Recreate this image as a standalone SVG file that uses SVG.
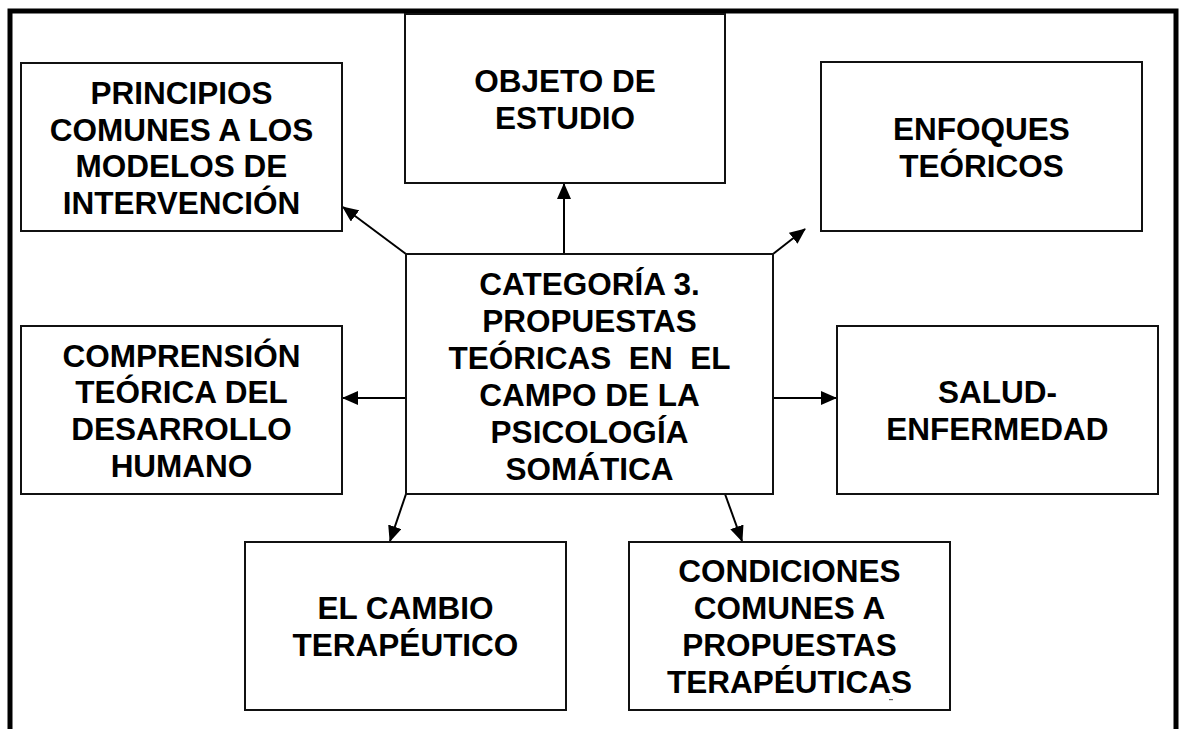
<svg xmlns="http://www.w3.org/2000/svg" width="1180" height="729" viewBox="0 0 1180 729">
<style>
.box{fill:#fff;stroke:#111;stroke-width:2}
.frame{stroke:#000;stroke-width:5;fill:none}
.t{font-family:"Liberation Sans",Arial,sans-serif;font-weight:bold;font-size:31.5px;fill:#000;text-anchor:middle}
.c{stroke:#000;stroke-width:2;fill:none;marker-end:url(#ah)}
</style>
<defs>
<marker id="ah" markerUnits="userSpaceOnUse" markerWidth="16" markerHeight="14" refX="15" refY="7" orient="auto">
<path d="M0,0 L16,7 L0,14 z" fill="#000"/>
</marker>
</defs>
<rect x="0" y="0" width="1180" height="729" fill="#fff"/>
<g id="frame">
<path class="frame" d="M10,729 L10,11 L1176,11 L1176,729"/>
</g>
<g id="connectors">
<line class="c" x1="564" y1="254" x2="564" y2="184"/>
<line class="c" x1="406" y1="398" x2="343" y2="398"/>
<line class="c" x1="773" y1="398" x2="836" y2="398"/>
<line class="c" x1="406" y1="254" x2="343" y2="207"/>
<line class="c" x1="773" y1="254" x2="805" y2="229"/>
<line class="c" x1="406" y1="494" x2="390" y2="541"/>
<line class="c" x1="725" y1="494" x2="742" y2="541"/>
</g>
<g id="objeto">
<rect class="box" x="405" y="14" width="320" height="169"/>
<text class="t" x="565" y="92">OBJETO DE</text>
<text class="t" x="565" y="129">ESTUDIO</text>
</g>
<g id="principios">
<rect class="box" x="21" y="63" width="321" height="168"/>
<text class="t" x="181.5" y="104">PRINCIPIOS</text>
<text class="t" x="181.5" y="141">COMUNES A LOS</text>
<text class="t" x="181.5" y="177">MODELOS DE</text>
<text class="t" x="181.5" y="214">INTERVENCIÓN</text>
</g>
<g id="enfoques">
<rect class="box" x="821" y="62" width="321" height="169"/>
<text class="t" x="981.5" y="140">ENFOQUES</text>
<text class="t" x="981.5" y="177">TEÓRICOS</text>
</g>
<g id="central">
<rect class="box" x="406" y="254" width="367" height="240"/>
<text class="t" x="589.5" y="295">CATEGORÍA 3.</text>
<text class="t" x="589.5" y="332">PROPUESTAS</text>
<text class="t" x="589.5" y="369" style="white-space:pre">TEÓRICAS  EN  EL</text>
<text class="t" x="589.5" y="406">CAMPO DE LA</text>
<text class="t" x="589.5" y="443">PSICOLOGÍA</text>
<text class="t" x="589.5" y="480">SOMÁTICA</text>
</g>
<g id="comprension">
<rect class="box" x="21" y="326" width="321" height="168"/>
<text class="t" x="181.5" y="367">COMPRENSIÓN</text>
<text class="t" x="181.5" y="403">TEÓRICA DEL</text>
<text class="t" x="181.5" y="440">DESARROLLO</text>
<text class="t" x="181.5" y="477">HUMANO</text>
</g>
<g id="salud">
<rect class="box" x="837" y="326" width="321" height="168"/>
<text class="t" x="997.5" y="403">SALUD-</text>
<text class="t" x="997.5" y="440">ENFERMEDAD</text>
</g>
<g id="cambio">
<rect class="box" x="245" y="542" width="321" height="168"/>
<text class="t" x="405.5" y="619">EL CAMBIO</text>
<text class="t" x="405.5" y="656">TERAPÉUTICO</text>
</g>
<g id="condiciones">
<rect class="box" x="629" y="542" width="321" height="168"/>
<text class="t" x="789.5" y="582">CONDICIONES</text>
<text class="t" x="789.5" y="619">COMUNES A</text>
<text class="t" x="789.5" y="656">PROPUESTAS</text>
<text class="t" x="789.5" y="693">TERAPÉUTICAS</text>
<rect x="889" y="699" width="4" height="1.2" fill="#666"/>
</g>
</svg>
